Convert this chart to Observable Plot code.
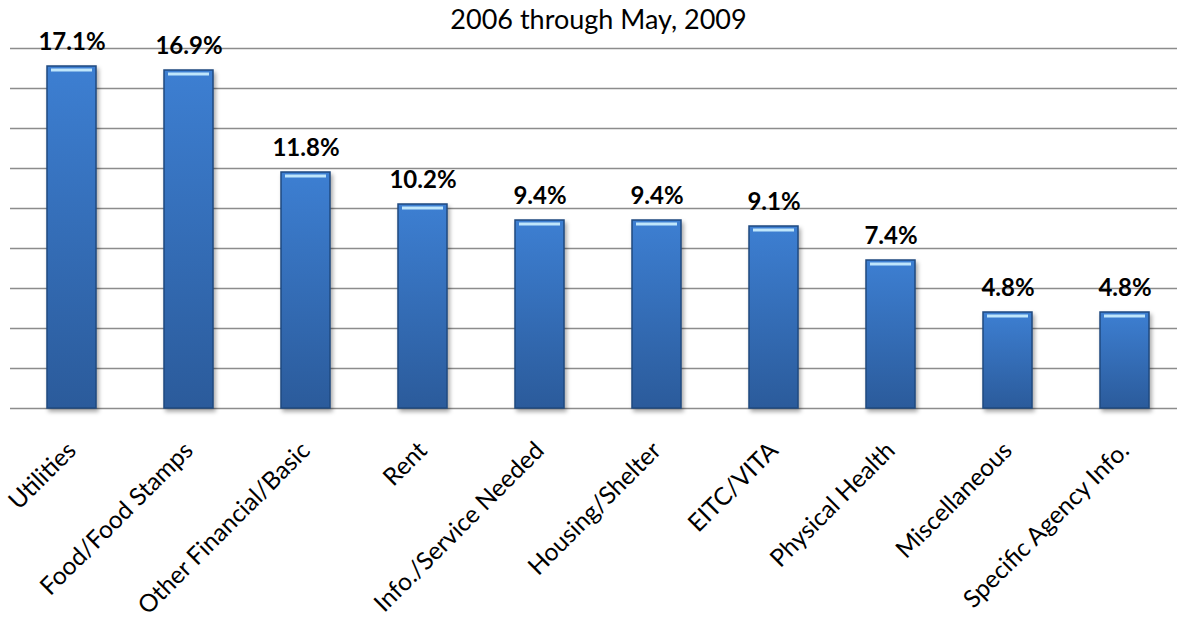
<!DOCTYPE html>
<html>
<head>
<meta charset="utf-8">
<script src="https://cdn.jsdelivr.net/npm/d3@7"></script>
<script src="https://cdn.jsdelivr.net/npm/@observablehq/plot@0.6"></script>
<style>
  html, body { margin: 0; padding: 0; background: #fff; overflow: hidden; }
  #chart svg { display: block; }
</style>
</head>
<body>
<div id="chart"></div>
<script>
const categories = ["Utilities", "Food/Food Stamps", "Other Financial/Basic", "Rent", "Info./Service Needed", "Housing/Shelter", "EITC/VITA", "Physical Health", "Miscellaneous", "Specific Agency Info."];
const values = [17.1, 16.9, 11.8, 10.2, 9.4, 9.4, 9.1, 7.4, 4.8, 4.8];
const gridTicks = [0, 2, 4, 6, 8, 10, 12, 14, 16, 18];
const titleText = "2006 through May, 2009";

const data = categories.map((c, i) => ({category: c, value: values[i]}));
const FONT = "Lato, 'Open Sans', sans-serif";

const svg = Plot.plot({
  width: 1177,
  height: 622,
  marginLeft: 10,
  marginRight: -9,
  marginTop: 48,
  marginBottom: 214,
  style: {fontFamily: FONT, background: "#fff", overflow: "hidden"},
  x: {domain: categories, padding: 0.583, paddingOuter: 0.29, label: null},
  y: {domain: [0, 18], axis: null},
  marks: [
    Plot.ruleY(gridTicks, {stroke: "#8c8c8c", strokeWidth: 1.6}),
    Plot.barY(data, {x: "category", y: "value", fill: "url(#barGrad)", stroke: "#1f4a80", strokeWidth: 1.5}),
    Plot.tickY(data, {x: "category", y: "value", dy: 3.5, stroke: "#bfe6fb", strokeWidth: 3, insetLeft: 4, insetRight: 4}),
    Plot.text(data, {x: "category", y: "value", text: d => d3.format(".1f")(d.value) + "%", lineAnchor: "bottom", dy: -17, fontWeight: "bold", fontSize: 24, fill: "#000"}),
    Plot.text([titleText], {frameAnchor: "top", text: d => d, lineAnchor: "bottom", dy: -20, fontSize: 27, fill: "#000"}),
    Plot.axisX({tickSize: 0, tickRotate: -45, tickPadding: 38, fontSize: 24.5, fill: "#000", label: null})
  ]
});

const sel = d3.select(svg);
const defs = sel.insert("defs", ":first-child");
const grad = defs.append("linearGradient").attr("id", "barGrad").attr("x1", 0).attr("x2", 0).attr("y1", 0).attr("y2", 1);
grad.append("stop").attr("offset", "0%").attr("stop-color", "#3d7fd2");
grad.append("stop").attr("offset", "100%").attr("stop-color", "#2b5b9b");
sel.selectAll("g[aria-label='bar'] rect").style("filter", "drop-shadow(2px 3px 2px rgba(0,0,0,0.35))");

document.getElementById("chart").appendChild(svg);
</script>
</body>
</html>
